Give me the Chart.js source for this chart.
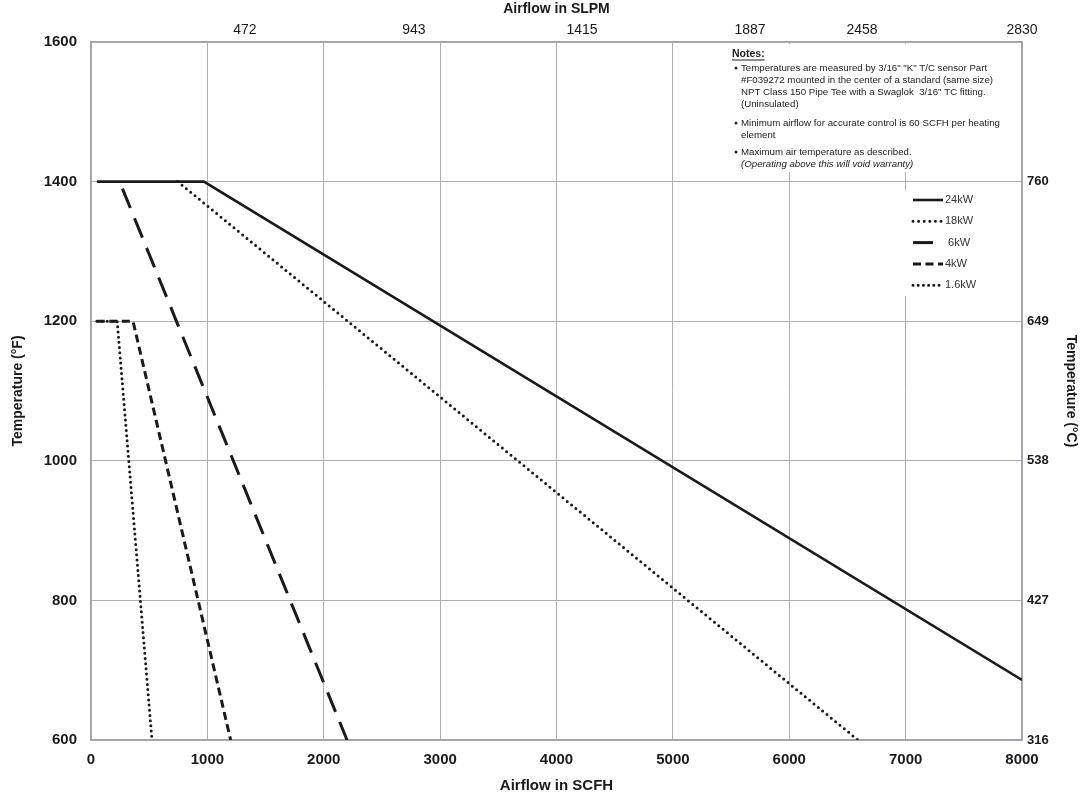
<!DOCTYPE html>
<html lang="en">
<head>
<meta charset="utf-8">
<title>heater airflow vs temperature</title>
<style>
  html, body { margin: 0; padding: 0; background: #fff; }
  #wrap { width: 1083px; height: 799px; position: relative; }
</style>
</head>
<body>
<div id="wrap"><canvas id="chart"></canvas></div>
<script src="https://cdn.jsdelivr.net/npm/chart.js"></script>
<script>
// series (airflow SCFH -> temperature F)
const seriesNames = ['24kW', '18kW', '6kW', '4kW', '1.6kW'];
const legendText  = ['24kW', '18kW', ' 6kW', '4kW', '1.6kW'];
const flow24 = [50, 970, 8000];   const temp24 = [1400, 1400, 686];
const flow18 = [745, 6590];       const temp18 = [1400, 600];
const flow6  = [270, 2200];       const temp6  = [1390, 600];
const flow4  = [50, 361, 1200];   const temp4  = [1200, 1200, 600];
const flow16 = [50, 225, 524];    const temp16 = [1200, 1200, 600];

// top axis labels (SLPM) and where they sit on the SCFH scale
const slpmLabels = ['472', '943', '1415', '1887', '2458', '2830'];
const slpmAt     = [1323, 2775, 4219, 5663, 6625, 8000];
// right axis labels (deg C)
const celsiusAt     = [600, 800, 1000, 1200, 1400];
const celsiusLabels = ['316', '427', '538', '649', '760'];

const notes = [
  {b: true,  t: 'Temperatures are measured by 3/16" "K" T/C sensor Part'},
  {b: false, t: '#F039272 mounted in the center of a standard (same size)'},
  {b: false, t: 'NPT Class 150 Pipe Tee with a Swaglok  3/16" TC fitting.'},
  {b: false, t: '(Uninsulated)'},
  {b: true,  t: 'Minimum airflow for accurate control is 60 SCFH per heating', gap: 7},
  {b: false, t: 'element'},
  {b: true,  t: 'Maximum air temperature as described.', gap: 5},
  {b: false, t: '(Operating above this will void warranty)', it: true}
];

const INK = '#1a1a1a';
const GRID = '#a9b0ba';
const SANS = "'Liberation Sans', Arial, sans-serif";

function pts(xs, ys) { return xs.map((x, i) => ({x: x, y: ys[i]})); }

const styles = [
  {borderWidth: 2.6, borderDash: []},
  {borderWidth: 3,   borderDash: [0, 5.6], borderCapStyle: 'round'},
  {borderWidth: 3,   borderDash: [21, 11]},
  {borderWidth: 3,   borderDash: [8, 4.5]},
  {borderWidth: 3,   borderDash: [0, 5.2], borderCapStyle: 'round'}
];
const allData = [pts(flow24, temp24), pts(flow18, temp18), pts(flow6, temp6),
                 pts(flow4, temp4), pts(flow16, temp16)];

const datasets = seriesNames.map((n, i) => Object.assign({
  label: n,
  data: allData[i],
  borderColor: INK,
  pointRadius: 0,
  tension: 0,
  fill: false
}, styles[i]));

const boxes = {
  id: 'boxes',
  afterDatasetsDraw(chart) {
    const c = chart.ctx;
    c.save();
    // notes box
    c.fillStyle = '#fff';
    c.fillRect(726, 44, 292, 128);
    c.fillStyle = '#222';
    c.font = 'bold 10.5px ' + SANS;
    c.textBaseline = 'middle';
    c.fillText('Notes:', 732, 54);
    const w = c.measureText('Notes:').width;
    c.fillRect(732, 59.5, w, 1);
    let y = 68;
    notes.forEach((n) => {
      if (n.gap) y += n.gap;
      c.font = (n.it ? 'italic ' : '') + '9.7px ' + SANS;
      if (n.b) {
        c.beginPath(); c.arc(736, y, 1.5, 0, Math.PI * 2); c.fill();
      }
      c.fillText(n.t, 741, y, 262);
      y += 12;
    });
    // legend box
    c.fillStyle = '#fff';
    c.fillRect(895, 190, 122, 106);
    c.font = '11px ' + SANS;
    chart.data.datasets.forEach((ds, i) => {
      const ly = 200 + i * 21.3;
      const len = i === 2 ? 20 : 30;
      c.strokeStyle = INK;
      c.lineWidth = ds.borderWidth;
      c.lineCap = ds.borderCapStyle || 'butt';
      c.setLineDash(ds.borderDash);
      c.beginPath(); c.moveTo(913, ly); c.lineTo(913 + len, ly); c.stroke();
      c.setLineDash([]);
      c.fillStyle = '#333';
      c.fillText(legendText[i], 945, ly);
    });
    c.restore();
  }
};

new Chart(document.getElementById('chart'), {
  type: 'line',
  data: {datasets: datasets},
  options: {
    responsive: true,
    maintainAspectRatio: false,
    animation: false,
    layout: {padding: 0},
    plugins: {legend: {display: false}, tooltip: {enabled: false}},
    scales: {
      x: {
        type: 'linear', position: 'bottom', min: 0, max: 8000,
        afterFit: (s) => { s.height = 59; },
        grid: {color: GRID, lineWidth: 1, drawTicks: false},
        border: {color: '#9ea4ad', width: 1.5},
        ticks: {stepSize: 1000, padding: 11, color: INK, maxRotation: 0,
                font: {family: SANS, size: 15, weight: 'bold'},
                callback: (v) => String(v)},
        title: {display: true, text: 'Airflow in SCFH', color: INK,
                padding: {top: 0, bottom: 4},
                font: {family: SANS, size: 15, weight: 'bold'}}
      },
      x2: {
        type: 'linear', position: 'top', min: 0, max: 8000,
        afterFit: (s) => { s.height = 42; },
        afterBuildTicks: (s) => { s.ticks = slpmAt.map(v => ({value: v})); },
        grid: {display: false, drawTicks: false},
        border: {color: '#9ea4ad', width: 1.5},
        ticks: {autoSkip: false, maxRotation: 0, padding: 3, color: INK,
                font: {family: SANS, size: 14},
                callback: (v, i) => slpmLabels[i]},
        title: {display: true, text: 'Airflow in SLPM', color: INK,
                padding: {top: 1, bottom: 0},
                font: {family: SANS, size: 14, weight: 'bold'}}
      },
      y: {
        type: 'linear', position: 'left', min: 600, max: 1600,
        afterFit: (s) => { s.width = 91; },
        grid: {color: GRID, lineWidth: 1, drawTicks: false},
        border: {color: '#9ea4ad', width: 1.5},
        ticks: {stepSize: 200, padding: 14, color: INK,
                font: {family: SANS, size: 15, weight: 'bold'},
                callback: (v) => String(v)},
        title: {display: true, text: 'Temperature (°F)', color: INK,
                padding: {top: 10, bottom: 0},
                font: {family: SANS, size: 14, weight: 'bold'}}
      },
      y2: {
        type: 'linear', position: 'right', min: 600, max: 1600,
        afterFit: (s) => { s.width = 61; },
        afterBuildTicks: (s) => { s.ticks = celsiusAt.map(v => ({value: v})); },
        grid: {display: false, drawTicks: true, tickLength: 3, color: '#9ea4ad'},
        border: {color: '#9ea4ad', width: 1.5},
        ticks: {autoSkip: false, padding: 2, color: INK,
                font: {family: SANS, size: 13, weight: 'bold'},
                callback: (v, i) => celsiusLabels[i]},
        title: {display: true, text: 'Temperature (°C)', color: INK,
                padding: {top: 4, bottom: 0},
                font: {family: SANS, size: 14, weight: 'bold'}}
      }
    }
  },
  plugins: [boxes]
});
</script>
</body>
</html>
